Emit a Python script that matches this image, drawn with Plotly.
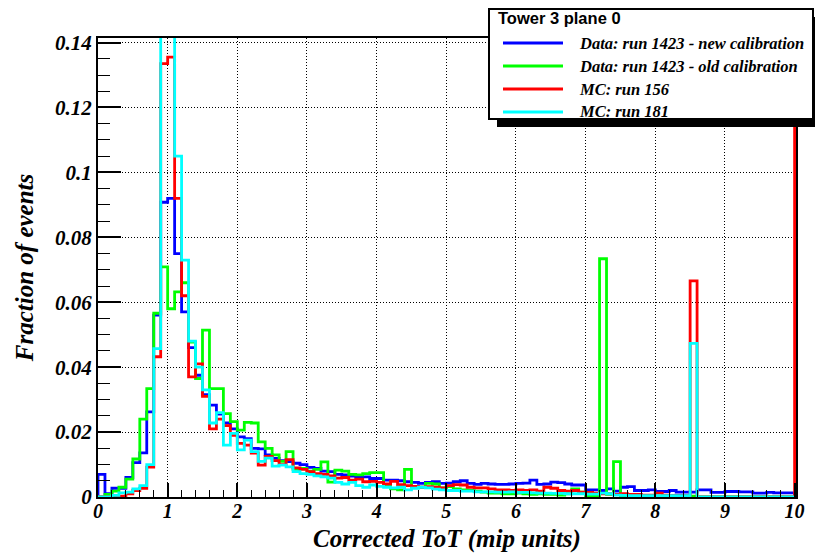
import plotly.graph_objects as go

# Histogram binning (Corrected ToT, mip units)
BIN_LO = 0.0
BIN_WIDTH = 0.1

# Fraction of events per 0.1-mip bin, bins 0..99 (0-10 mip)
data_new_calib = [
    0.0070, 0.0010, 0.0027, 0.0027, 0.0060, 0.0106, 0.0136, 0.0262, 0.0560, 0.0908,
    0.0920, 0.0750, 0.0570, 0.0460, 0.0375, 0.0315, 0.0283, 0.0255, 0.0228, 0.0210,
    0.0185, 0.0180, 0.0150, 0.0148, 0.0130, 0.0119, 0.0112, 0.0109, 0.0104, 0.0100,
    0.0091, 0.0088, 0.0080, 0.0078, 0.0070, 0.0068, 0.0064, 0.0062, 0.0062, 0.0057,
    0.0057, 0.0052, 0.0052, 0.0050, 0.0047, 0.0045, 0.0042, 0.0045, 0.0047, 0.0042,
    0.0043, 0.0047, 0.0050, 0.0042, 0.0039, 0.0042, 0.0040, 0.0039, 0.0039, 0.0040,
    0.0042, 0.0043, 0.0052, 0.0039, 0.0040, 0.0046, 0.0044, 0.0040, 0.0037, 0.0037,
    0.0022, 0.0022, 0.0020, 0.0025, 0.0018, 0.0030, 0.0032, 0.0020, 0.0020, 0.0022,
    0.0017, 0.0017, 0.0020, 0.0015, 0.0015, 0.0015, 0.0022, 0.0022, 0.0014, 0.0014,
    0.0017, 0.0017, 0.0016, 0.0016, 0.0012, 0.0012, 0.0014, 0.0013, 0.0013, 0.0013,
]

data_old_calib = [
    0.0000, 0.0008, 0.0018, 0.0030, 0.0055, 0.0117, 0.0240, 0.0334, 0.0566, 0.0709,
    0.0580, 0.0632, 0.0660, 0.0477, 0.0365, 0.0514, 0.0334, 0.0334, 0.0257, 0.0232,
    0.0206, 0.0230, 0.0228, 0.0170, 0.0150, 0.0130, 0.0110, 0.0140, 0.0085, 0.0088,
    0.0080, 0.0085, 0.0108, 0.0046, 0.0083, 0.0080, 0.0070, 0.0068, 0.0072, 0.0075,
    0.0075, 0.0035, 0.0025, 0.0022, 0.0085, 0.0030, 0.0030, 0.0042, 0.0040, 0.0028,
    0.0032, 0.0025, 0.0022, 0.0020, 0.0018, 0.0015, 0.0012, 0.0012, 0.0010, 0.0010,
    0.0012, 0.0010, 0.0008, 0.0010, 0.0008, 0.0008, 0.0006, 0.0010, 0.0025, 0.0015,
    0.0004, 0.0004, 0.0734, 0.0008, 0.0109, 0.0003, 0.0003, 0.0003, 0.0003, 0.0003,
    0.0003, 0.0003, 0.0003, 0.0003, 0.0003, 0.0003, 0.0000, 0.0000, 0.0000, 0.0000,
    0.0000, 0.0000, 0.0000, 0.0000, 0.0000, 0.0000, 0.0000, 0.0000, 0.0000, 0.0000,
]

# MC run 156 carries one extra bin just above 10 mip (10.0-10.1)
mc_run156 = [
    0.0000, 0.0000, 0.0000, 0.0003, 0.0010, 0.0020, 0.0027, 0.0092, 0.0432, 0.1335,
    0.1355, 0.0920, 0.0620, 0.0370, 0.0410, 0.0310, 0.0210, 0.0240, 0.0220, 0.0190,
    0.0165, 0.0160, 0.0135, 0.0098, 0.0125, 0.0112, 0.0100, 0.0115, 0.0090, 0.0085,
    0.0078, 0.0072, 0.0070, 0.0065, 0.0058, 0.0060, 0.0052, 0.0055, 0.0047, 0.0048,
    0.0045, 0.0040, 0.0048, 0.0038, 0.0035, 0.0033, 0.0030, 0.0032, 0.0030, 0.0028,
    0.0035, 0.0038, 0.0037, 0.0030, 0.0028, 0.0028, 0.0025, 0.0022, 0.0022, 0.0020,
    0.0022, 0.0020, 0.0022, 0.0018, 0.0030, 0.0027, 0.0020, 0.0018, 0.0020, 0.0015,
    0.0014, 0.0012, 0.0010, 0.0010, 0.0008, 0.0010, 0.0008, 0.0008, 0.0006, 0.0006,
    0.0012, 0.0006, 0.0005, 0.0005, 0.0004, 0.0666, 0.0000, 0.0000, 0.0000, 0.0000,
    0.0000, 0.0000, 0.0000, 0.0000, 0.0000, 0.0000, 0.0000, 0.0000, 0.0000, 0.0000,
    0.2000,
]

mc_run181 = [
    0.0000, 0.0000, 0.0005, 0.0013, 0.0015, 0.0025, 0.0035, 0.0100, 0.0457, 0.1500,
    0.1430, 0.1050, 0.0730, 0.0480, 0.0400, 0.0330, 0.0228, 0.0260, 0.0160, 0.0196,
    0.0145, 0.0175, 0.0140, 0.0110, 0.0120, 0.0095, 0.0098, 0.0093, 0.0078, 0.0072,
    0.0070, 0.0065, 0.0062, 0.0058, 0.0045, 0.0040, 0.0045, 0.0035, 0.0030, 0.0037,
    0.0033, 0.0030, 0.0028, 0.0030, 0.0022, 0.0027, 0.0030, 0.0028, 0.0024, 0.0022,
    0.0020, 0.0020, 0.0018, 0.0018, 0.0016, 0.0016, 0.0016, 0.0015, 0.0015, 0.0016,
    0.0014, 0.0014, 0.0013, 0.0012, 0.0012, 0.0011, 0.0011, 0.0010, 0.0010, 0.0010,
    0.0009, 0.0009, 0.0012, 0.0010, 0.0006, 0.0005, 0.0004, 0.0004, 0.0004, 0.0004,
    0.0004, 0.0004, 0.0004, 0.0004, 0.0004, 0.0473, 0.0000, 0.0000, 0.0000, 0.0000,
    0.0000, 0.0000, 0.0000, 0.0000, 0.0000, 0.0000, 0.0000, 0.0000, 0.0000, 0.0000,
]

series_names = [
    "Data: run 1423 - new calibration",
    "Data: run 1423 - old calibration",
    "MC: run 156",
    "MC: run 181",
]
series_values = [data_new_calib, data_old_calib, mc_run156, mc_run181]
series_colors = ["#0000ff", "#00ff00", "#ff0000", "#00ffff"]

legend_title = "Tower 3 plane 0"
x_title = "Corrected ToT (mip units)"
y_title = "Fraction of events"

SERIF = "Liberation Serif"
SANS = "Liberation Sans"
W, H = 815, 556
ML, MR, MT, MB = 98, 19, 38, 59
PW, PH = W - ML - MR, H - MT - MB


def px_x(p):
    return (p - ML) / PW


def px_y(p):
    return (H - MB - p) / PH


def step_outline(values):
    """Histogram outline: start and end on the baseline, one step per bin."""
    n = len(values)
    edges = [round(BIN_LO + i * BIN_WIDTH, 6) for i in range(n + 1)]
    xs = [edges[0]] + edges[:-1] + [edges[-1]]
    ys = [0.0] + list(values) + [0.0]
    return xs, ys


fig = go.Figure()
for name, vals, col in zip(series_names, series_values, series_colors):
    xs, ys = step_outline(vals)
    fig.add_trace(go.Scatter(
        x=xs, y=ys, name=name, mode="lines",
        line=dict(color=col, width=2.8, shape="hv"),
        showlegend=False, hoverinfo="skip",
    ))

xtick_font = dict(family=SERIF, size=20, color="black", weight="bold", style="italic")
ytick_font = dict(family=SERIF, size=21, color="black", weight="bold", style="italic")
title_font = dict(family=SERIF, size=25, color="black", weight="bold", style="italic")

fig.update_layout(
    width=W, height=H,
    margin=dict(l=ML, r=MR, t=MT, b=MB, pad=0),
    paper_bgcolor="white", plot_bgcolor="white",
    xaxis=dict(
        range=[0, 10.02], dtick=1, tick0=0,
        showline=True, linecolor="black", linewidth=2, mirror=True,
        ticks="inside", ticklen=14, tickwidth=1.5, tickcolor="black",
        minor=dict(dtick=0.2, ticks="inside", ticklen=7, tickwidth=1, tickcolor="black", showgrid=False),
        showgrid=True, gridcolor="black", gridwidth=1, griddash="1px,2px",
        zeroline=False, tickfont=xtick_font, ticklabelstandoff=-5,
        title=dict(text=x_title, font=title_font, standoff=8),
        automargin=False,
    ),
    yaxis=dict(
        range=[0, 0.1414], dtick=0.02, tick0=0,
        showline=True, linecolor="black", linewidth=2, mirror=True,
        ticks="inside", ticklen=23, tickwidth=1.5, tickcolor="black",
        minor=dict(dtick=0.005, ticks="inside", ticklen=12, tickwidth=1, tickcolor="black", showgrid=False),
        showgrid=True, gridcolor="black", gridwidth=1, griddash="1px,2px",
        zeroline=False, tickfont=ytick_font,
        title=dict(text=y_title, font=title_font, standoff=14),
        automargin=False,
    ),
)

# Legend panel with drop shadow
shapes = [
    dict(type="rect", xref="paper", yref="paper", layer="above",
         x0=px_x(497), x1=px_x(823), y0=px_y(127), y1=px_y(17),
         fillcolor="black", line=dict(width=0)),
    dict(type="rect", xref="paper", yref="paper", layer="above",
         x0=px_x(489), x1=px_x(813), y0=px_y(119), y1=px_y(9),
         fillcolor="white", line=dict(color="black", width=2)),
]
annotations = [
    dict(text=legend_title, xref="paper", yref="paper", x=px_x(496), y=px_y(18),
         xanchor="left", yanchor="middle", showarrow=False,
         font=dict(family=SANS, size=16.5, color="black", weight="bold")),
]
row_y = [43, 66, 89, 112]
for name, col, ry in zip(series_names, series_colors, row_y):
    shapes.append(dict(type="line", xref="paper", yref="paper", layer="above",
                       x0=px_x(503), x1=px_x(563), y0=px_y(ry), y1=px_y(ry),
                       line=dict(color=col, width=3)))
    annotations.append(dict(text=name, xref="paper", yref="paper", x=px_x(577), y=px_y(ry),
                            xanchor="left", yanchor="middle", showarrow=False,
                            font=dict(family=SERIF, size=16.5, color="black",
                                      weight="bold", style="italic")))

fig.update_layout(shapes=shapes, annotations=annotations)
fig.write_html("out.html")
